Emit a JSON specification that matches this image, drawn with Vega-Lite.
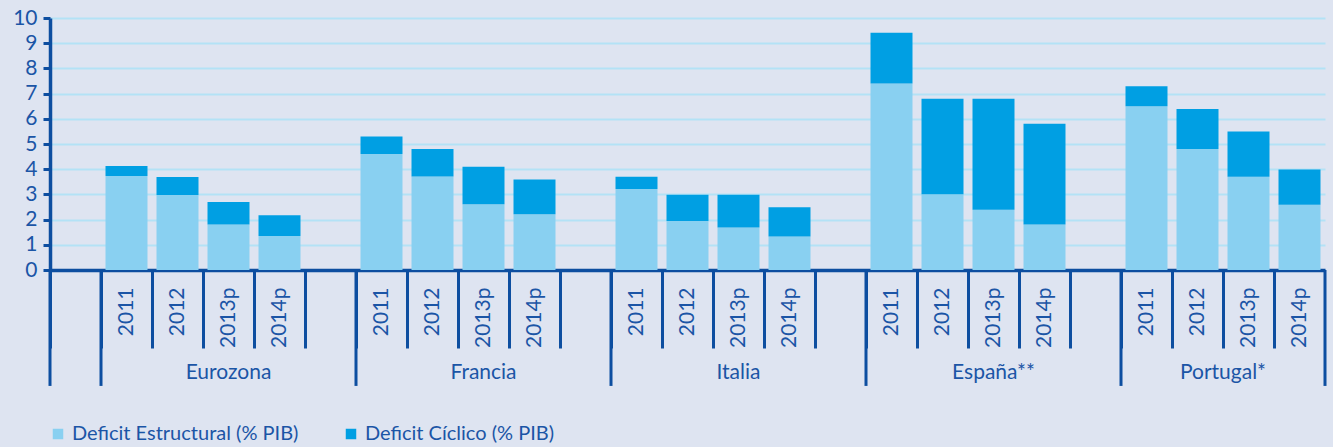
{
  "$schema": "https://vega.github.io/schema/vega-lite/v6.json",
  "width": 1275,
  "height": 252,
  "autosize": {"type": "none"},
  "padding": {"left": 50, "top": 18, "right": 8, "bottom": 177},
  "background": "#dee4f1",
  "config": {
    "view": {"stroke": null},
    "font": "Lato"
  },
  "layer": [
    {
      "data": {"values": [
        {"slot": "Eurozona|2011", "tipo": "Deficit Estructural (% PIB)", "v": 3.73},
        {"slot": "Eurozona|2011", "tipo": "Deficit Cíclico (% PIB)", "v": 0.40},
        {"slot": "Eurozona|2012", "tipo": "Deficit Estructural (% PIB)", "v": 2.98},
        {"slot": "Eurozona|2012", "tipo": "Deficit Cíclico (% PIB)", "v": 0.71},
        {"slot": "Eurozona|2013p", "tipo": "Deficit Estructural (% PIB)", "v": 1.81},
        {"slot": "Eurozona|2013p", "tipo": "Deficit Cíclico (% PIB)", "v": 0.89},
        {"slot": "Eurozona|2014p", "tipo": "Deficit Estructural (% PIB)", "v": 1.35},
        {"slot": "Eurozona|2014p", "tipo": "Deficit Cíclico (% PIB)", "v": 0.82},
        {"slot": "Francia|2011", "tipo": "Deficit Estructural (% PIB)", "v": 4.60},
        {"slot": "Francia|2011", "tipo": "Deficit Cíclico (% PIB)", "v": 0.70},
        {"slot": "Francia|2012", "tipo": "Deficit Estructural (% PIB)", "v": 3.71},
        {"slot": "Francia|2012", "tipo": "Deficit Cíclico (% PIB)", "v": 1.09},
        {"slot": "Francia|2013p", "tipo": "Deficit Estructural (% PIB)", "v": 2.61},
        {"slot": "Francia|2013p", "tipo": "Deficit Cíclico (% PIB)", "v": 1.49},
        {"slot": "Francia|2014p", "tipo": "Deficit Estructural (% PIB)", "v": 2.21},
        {"slot": "Francia|2014p", "tipo": "Deficit Cíclico (% PIB)", "v": 1.38},
        {"slot": "Italia|2011", "tipo": "Deficit Estructural (% PIB)", "v": 3.21},
        {"slot": "Italia|2011", "tipo": "Deficit Cíclico (% PIB)", "v": 0.49},
        {"slot": "Italia|2012", "tipo": "Deficit Estructural (% PIB)", "v": 1.94},
        {"slot": "Italia|2012", "tipo": "Deficit Cíclico (% PIB)", "v": 1.05},
        {"slot": "Italia|2013p", "tipo": "Deficit Estructural (% PIB)", "v": 1.69},
        {"slot": "Italia|2013p", "tipo": "Deficit Cíclico (% PIB)", "v": 1.30},
        {"slot": "Italia|2014p", "tipo": "Deficit Estructural (% PIB)", "v": 1.33},
        {"slot": "Italia|2014p", "tipo": "Deficit Cíclico (% PIB)", "v": 1.16},
        {"slot": "España|2011", "tipo": "Deficit Estructural (% PIB)", "v": 7.40},
        {"slot": "España|2011", "tipo": "Deficit Cíclico (% PIB)", "v": 2.01},
        {"slot": "España|2012", "tipo": "Deficit Estructural (% PIB)", "v": 3.01},
        {"slot": "España|2012", "tipo": "Deficit Cíclico (% PIB)", "v": 3.79},
        {"slot": "España|2013p", "tipo": "Deficit Estructural (% PIB)", "v": 2.39},
        {"slot": "España|2013p", "tipo": "Deficit Cíclico (% PIB)", "v": 4.41},
        {"slot": "España|2014p", "tipo": "Deficit Estructural (% PIB)", "v": 1.81},
        {"slot": "España|2014p", "tipo": "Deficit Cíclico (% PIB)", "v": 3.99},
        {"slot": "Portugal*|2011", "tipo": "Deficit Estructural (% PIB)", "v": 6.50},
        {"slot": "Portugal*|2011", "tipo": "Deficit Cíclico (% PIB)", "v": 0.79},
        {"slot": "Portugal*|2012", "tipo": "Deficit Estructural (% PIB)", "v": 4.80},
        {"slot": "Portugal*|2012", "tipo": "Deficit Cíclico (% PIB)", "v": 1.59},
        {"slot": "Portugal*|2013p", "tipo": "Deficit Estructural (% PIB)", "v": 3.70},
        {"slot": "Portugal*|2013p", "tipo": "Deficit Cíclico (% PIB)", "v": 1.80},
        {"slot": "Portugal*|2014p", "tipo": "Deficit Estructural (% PIB)", "v": 2.59},
        {"slot": "Portugal*|2014p", "tipo": "Deficit Cíclico (% PIB)", "v": 1.40}
      ]},
      "mark": {"type": "bar", "width": 42},
      "encoding": {
        "x": {
          "field": "slot", "type": "nominal", "title": null,
          "scale": {"type": "band", "paddingInner": 0, "paddingOuter": 0,
            "domain": ["b0","Eurozona|2011","Eurozona|2012","Eurozona|2013p","Eurozona|2014p","b1","Francia|2011","Francia|2012","Francia|2013p","Francia|2014p","b2","Italia|2011","Italia|2012","Italia|2013p","Italia|2014p","b3","España|2011","España|2012","España|2013p","España|2014p","b4","Portugal*|2011","Portugal*|2012","Portugal*|2013p","Portugal*|2014p"]},
          "axis": {
            "labelExpr": "indexof(datum.value, '|') > 0 ? split(datum.value, '|')[1] : ''",
            "labelAngle": -90, "labelAlign": "right", "labelBaseline": "middle",
            "labelPadding": -61, "labelFontSize": 21, "labelColor": "#1b55a6",
            "tickOffset": -25.5, "labelOffset": 25.5,
            "tickSize": 78, "tickWidth": 3, "tickColor": "#0d4ea0",
            "domainColor": "#0d4ea0", "domainWidth": 3.5, "grid": false
          }
        },
        "y": {
          "field": "v", "type": "quantitative", "title": null,
          "scale": {"domain": [0, 10], "nice": false},
          "axis": {
            "tickCount": 10, "labelFontSize": 21, "labelColor": "#1b55a6",
            "labelPadding": 6, "tickSize": 7, "tickWidth": 3, "tickColor": "#0d4ea0",
            "domainColor": "#0d4ea0", "domainWidth": 3.5,
            "grid": true, "gridColor": "#b3e2f6", "gridWidth": 2
          }
        },
        "color": {
          "field": "tipo", "type": "nominal",
          "scale": {"domain": ["Deficit Estructural (% PIB)", "Deficit Cíclico (% PIB)"], "range": ["#89d0f1", "#009fe3"]},
          "legend": {
            "orient": "none", "legendX": -2, "legendY": 406, "direction": "horizontal",
            "title": null, "symbolType": "square", "symbolSize": 110,
            "labelFontSize": 20, "labelColor": "#1b55a6", "labelOffset": 4, "labelLimit": 0,
            "columnPadding": 42
          }
        }
      }
    },
    {
      "data": {"values": [
        {"slot": "b0"}, {"slot": "Eurozona|2011"}, {"slot": "Francia|2011"}, {"slot": "Italia|2011"}, {"slot": "España|2011"}, {"slot": "Portugal*|2011"}
      ]},
      "mark": {"type": "rule", "color": "#0d4ea0", "strokeWidth": 3},
      "encoding": {
        "x": {"field": "slot", "type": "nominal", "title": null, "bandPosition": 0},
        "y": {"datum": 0},
        "y2": {"datum": -4.6}
      }
    },
    {
      "data": {"values": [{"slot": "Portugal*|2014p"}]},
      "mark": {"type": "rule", "color": "#0d4ea0", "strokeWidth": 3},
      "encoding": {
        "x": {"field": "slot", "type": "nominal", "title": null, "bandPosition": 1},
        "y": {"datum": 0},
        "y2": {"datum": -4.6}
      }
    },
    {
      "data": {"values": [
        {"slot": "Eurozona|2013p", "grupo": "Eurozona"},
        {"slot": "Francia|2013p", "grupo": "Francia"},
        {"slot": "Italia|2013p", "grupo": "Italia"},
        {"slot": "España|2013p", "grupo": "España**"}
      ]},
      "mark": {"type": "text", "fontSize": 21, "color": "#1b55a6", "baseline": "middle", "align": "center"},
      "encoding": {
        "x": {"field": "slot", "type": "nominal", "title": null},
        "y": {"datum": -4.1},
        "text": {"field": "grupo"}
      }
    },
    {
      "data": {"values": [{"slot": "Portugal*|2013p", "grupo": "Portugal*"}]},
      "mark": {"type": "text", "fontSize": 21, "color": "#1b55a6", "baseline": "middle", "align": "center"},
      "encoding": {
        "x": {"field": "slot", "type": "nominal", "title": null, "bandPosition": 0},
        "y": {"datum": -4.1},
        "text": {"field": "grupo"}
      }
    }
  ]
}
